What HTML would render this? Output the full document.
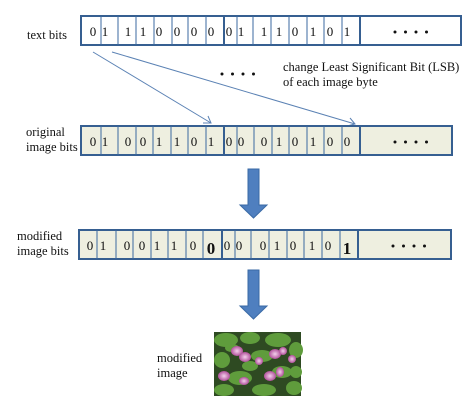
<!DOCTYPE html>
<html><head><meta charset="utf-8"><style>
html,body{margin:0;padding:0;background:#fff;}
svg{display:block;font-family:"Liberation Serif",serif;}
</style></head><body>
<svg width="473" height="404" viewBox="0 0 473 404" xmlns="http://www.w3.org/2000/svg">
<defs>
<radialGradient id="lp" cx="50%" cy="50%" r="50%"><stop offset="0" stop-color="#f4d0ec"/><stop offset="1" stop-color="#b0509a"/></radialGradient>
<g id="dots" fill="#111"><circle cx="0" cy="0" r="1.5"/><circle cx="10.5" cy="0" r="1.5"/><circle cx="21" cy="0" r="1.5"/><circle cx="31.5" cy="0" r="1.5"/></g>
</defs>
<!-- Row 1 -->
<g stroke="#3b6aa0" stroke-width="1">
<rect x="81" y="16" width="380" height="29" fill="#fff" stroke="#365f91" stroke-width="2"/>
<path d="M101 16V45M118 16V45M136 16V45M154 16V45M172 16V45M188 16V45M206 16V45M237 16V45M253 16V45M271 16V45M289 16V45M307 16V45M324 16V45M342 16V45" fill="none"/>
<path d="M224 16V45M360 16V45" stroke="#365f91" stroke-width="2"/>
</g>
<g font-size="13" fill="#111" text-anchor="middle">
<text x="93" y="36">0</text><text x="105" y="36">1</text><text x="128" y="36">1</text><text x="143" y="36">1</text><text x="159" y="36">0</text><text x="177" y="36">0</text><text x="194" y="36">0</text><text x="211" y="36">0</text><text x="229" y="36">0</text><text x="241" y="36">1</text><text x="264" y="36">1</text><text x="279" y="36">1</text><text x="295" y="36">0</text><text x="313" y="36">1</text><text x="330" y="36">0</text><text x="347" y="36">1</text>
</g>
<use href="#dots" x="395" y="32"/>
<text x="27" y="39" font-size="12.5" fill="#111">text bits</text>

<!-- connectors -->
<g stroke="#5b82b4" stroke-width="1" fill="none">
<line x1="93" y1="52" x2="211" y2="123"/>
<path d="M203 123L211 123L208 116"/>
<line x1="112" y1="52" x2="355" y2="124"/>
<path d="M347 126L355 124L350 118"/>
</g>
<use href="#dots" x="222" y="74"/>
<text x="283" y="71" font-size="12.5" fill="#111">change Least Significant Bit (LSB)</text>
<text x="283" y="86" font-size="12.5" fill="#111">of each image byte</text>

<!-- Row 2 -->
<g stroke="#3b6aa0" stroke-width="1">
<rect x="81" y="126" width="371" height="29" fill="#eeefe0" stroke="#365f91" stroke-width="2"/>
<path d="M101 126V155M118 126V155M136 126V155M153 126V155M171 126V155M188 126V155M206 126V155M237 126V155M254 126V155M272 126V155M289 126V155M307 126V155M324 126V155M342 126V155" fill="none"/>
<path d="M224 126V155M360 126V155" stroke="#365f91" stroke-width="2"/>
</g>
<g font-size="13" fill="#111" text-anchor="middle">
<text x="93" y="146">0</text><text x="105" y="146">1</text><text x="128" y="146">0</text><text x="143" y="146">0</text><text x="159" y="146">1</text><text x="177" y="146">1</text><text x="194" y="146">0</text><text x="211" y="146">1</text><text x="229" y="146">0</text><text x="241" y="146">0</text><text x="264" y="146">0</text><text x="279" y="146">1</text><text x="295" y="146">0</text><text x="313" y="146">1</text><text x="330" y="146">0</text><text x="347" y="146">0</text>
</g>
<use href="#dots" x="395" y="142"/>
<text x="26" y="136" font-size="12.5" fill="#111">original</text>
<text x="26" y="151" font-size="12.5" fill="#111">image bits</text>

<!-- Arrow 1 -->
<path d="M248 169H259V205H267L253.5 218L240 205H248Z" fill="#4f7fbf" stroke="#3a6aa5" stroke-width="1"/>

<!-- Row 3 -->
<g stroke="#3b6aa0" stroke-width="1">
<rect x="79" y="230" width="372" height="29" fill="#eeefe0" stroke="#365f91" stroke-width="2"/>
<path d="M97 230V259M116 230V259M133 230V259M151 230V259M168 230V259M186 230V259M203 230V259M235 230V259M251 230V259M269 230V259M287 230V259M304 230V259M322 230V259M340 230V259" fill="none"/>
<path d="M222 230V259M358 230V259" stroke="#365f91" stroke-width="2"/>
</g>
<g font-size="13" fill="#111" text-anchor="middle">
<text x="90" y="250">0</text><text x="103" y="250">1</text><text x="127" y="250">0</text><text x="142" y="250">0</text><text x="157" y="250">1</text><text x="174" y="250">1</text><text x="193" y="250">0</text><text x="227" y="250">0</text><text x="239" y="250">0</text><text x="263" y="250">0</text><text x="277" y="250">1</text><text x="293" y="250">0</text><text x="312" y="250">1</text><text x="328" y="250">0</text>
<text x="211" y="254" font-size="17" font-weight="bold">0</text>
<text x="347" y="254" font-size="17" font-weight="bold">1</text>
</g>
<use href="#dots" x="393" y="246"/>
<text x="17" y="240" font-size="12.5" fill="#111">modified</text>
<text x="17" y="255" font-size="12.5" fill="#111">image bits</text>

<!-- Arrow 2 -->
<path d="M248 270H259V306H267L253.5 319L240 306H248Z" fill="#4f7fbf" stroke="#3a6aa5" stroke-width="1"/>

<!-- Image -->
<rect x="214" y="332" width="87" height="64" fill="#2e4a22"/>
<g fill="#5f9c3c">
<ellipse cx="226" cy="340" rx="12" ry="7"/><ellipse cx="250" cy="338" rx="10" ry="6"/><ellipse cx="278" cy="340" rx="13" ry="7"/><ellipse cx="296" cy="350" rx="7" ry="8"/>
<ellipse cx="222" cy="360" rx="8" ry="8"/><ellipse cx="262" cy="356" rx="11" ry="6"/><ellipse cx="240" cy="378" rx="12" ry="7"/><ellipse cx="282" cy="372" rx="10" ry="6"/>
<ellipse cx="224" cy="390" rx="10" ry="6"/><ellipse cx="264" cy="390" rx="12" ry="6"/><ellipse cx="294" cy="388" rx="8" ry="7"/>
<ellipse cx="250" cy="366" rx="8" ry="5"/><ellipse cx="296" cy="372" rx="6" ry="6"/><ellipse cx="232" cy="348" rx="7" ry="4"/>
</g>
<g fill="url(#lp)">
<ellipse cx="237" cy="351" rx="6" ry="5"/><ellipse cx="245" cy="357" rx="6" ry="5"/><ellipse cx="259" cy="361" rx="4" ry="4"/><ellipse cx="275" cy="354" rx="6" ry="5"/><ellipse cx="283" cy="351" rx="4" ry="4"/><ellipse cx="292" cy="359" rx="4" ry="4"/>
<ellipse cx="224" cy="376" rx="6" ry="5"/><ellipse cx="244" cy="381" rx="5" ry="4"/><ellipse cx="270" cy="376" rx="6" ry="5"/><ellipse cx="280" cy="372" rx="4" ry="5"/>
</g>
<text x="157" y="362" font-size="12.5" fill="#111">modified</text>
<text x="157" y="377" font-size="12.5" fill="#111">image</text>
</svg>
</body></html>
